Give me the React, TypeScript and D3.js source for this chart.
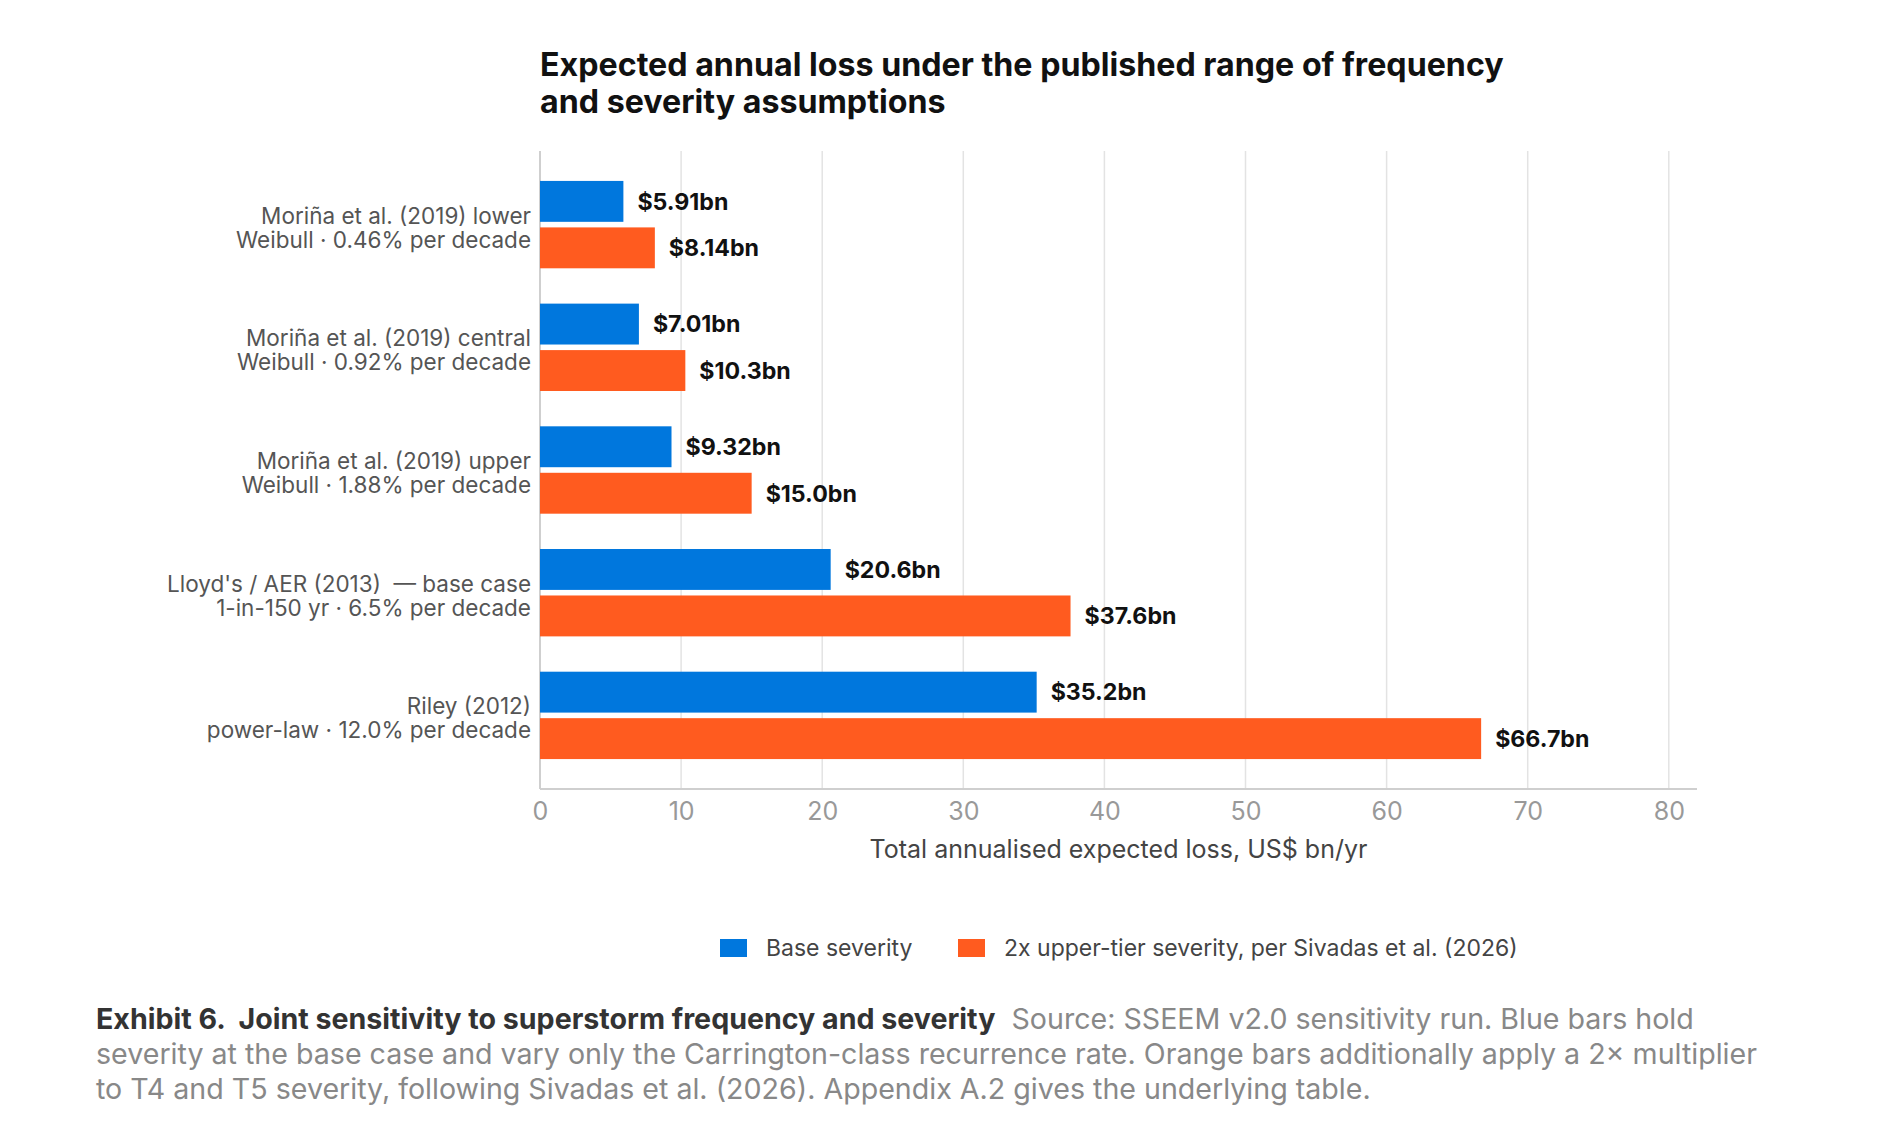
import { useEffect, useRef } from 'react'
import * as d3 from 'd3'

const categories = [
  ['Moriña et al. (2019) lower', 'Weibull · 0.46% per decade'],
  ['Moriña et al. (2019) central', 'Weibull · 0.92% per decade'],
  ['Moriña et al. (2019) upper', 'Weibull · 1.88% per decade'],
  ["Lloyd's / AER (2013)  — base case", '1-in-150 yr · 6.5% per decade'],
  ['Riley (2012)', 'power-law · 12.0% per decade'],
]
const baseSeverity = [5.91, 7.01, 9.32, 20.6, 35.2]
const upperSeverity = [8.14, 10.3, 15.0, 37.6, 66.7]
const baseLabels = ['$5.91bn', '$7.01bn', '$9.32bn', '$20.6bn', '$35.2bn']
const upperLabels = ['$8.14bn', '$10.3bn', '$15.0bn', '$37.6bn', '$66.7bn']
const xTicks = [0, 10, 20, 30, 40, 50, 60, 70, 80]
const seriesNames = ['Base severity', '2x upper-tier severity, per Sivadas et al. (2026)']

const W = 1880
const H = 1130
const BLUE = '#0077dd'
const ORANGE = '#ff5b1f'
const FONT = 'Inter, "Noto Sans", sans-serif'

export default function App() {
  const svgRef = useRef<SVGSVGElement>(null)

  useEffect(() => {
    document.body.style.margin = '0'
    if (!svgRef.current) return
    const svg = d3.select(svgRef.current)
    svg.selectAll('*').remove()

    const left = 540
    const top = 151
    const bottom = 789
    const axisEnd = 1697

    const x = d3.scaleLinear().domain([0, 80]).range([left, left + 8 * 141.1])
    const y = d3.scaleBand<number>().domain(d3.range(categories.length)).range([top, bottom]).paddingInner(0).paddingOuter(0.1)
    const sub = d3.scaleBand<number>().domain([0, 1]).range([0, y.bandwidth()]).paddingInner(0.12).paddingOuter(0.38)

    svg.append('rect').attr('width', W).attr('height', H).attr('fill', '#fff')

    // title
    const title = svg.append('text').attr('font-family', FONT).attr('font-weight', 700).attr('font-size', 32.2).attr('fill', '#111')
    title.append('tspan').attr('x', left).attr('y', 76).text('Expected annual loss under the published range of frequency')
    title.append('tspan').attr('x', left).attr('y', 113).text('and severity assumptions')

    // grid
    svg.append('g').selectAll('line').data(xTicks.slice(1)).join('line')
      .attr('x1', d => x(d)).attr('x2', d => x(d)).attr('y1', top).attr('y2', bottom)
      .attr('stroke', '#e3e3e3').attr('stroke-width', 1.5)

    // axes lines
    svg.append('line').attr('x1', left).attr('x2', left).attr('y1', top).attr('y2', bottom).attr('stroke', '#cfcfcf').attr('stroke-width', 2)
    svg.append('line').attr('x1', left).attr('x2', axisEnd).attr('y1', bottom).attr('y2', bottom).attr('stroke', '#cfcfcf').attr('stroke-width', 2)

    // tick labels
    svg.append('g').attr('transform', `translate(0,${bottom})`)
      .call(d3.axisBottom(x).tickValues(xTicks).tickSize(0).tickPadding(13))
      .call(ax => ax.select('.domain').remove())
      .selectAll('text').attr('font-family', FONT).attr('font-size', 25).attr('fill', '#999')

    svg.append('text').attr('x', (left + axisEnd) / 2).attr('y', 858).attr('text-anchor', 'middle')
      .attr('font-family', FONT).attr('font-size', 25).attr('fill', '#444')
      .text('Total annualised expected loss, US$ bn/yr')

    // bars
    const series = [
      { vals: baseSeverity, labels: baseLabels, color: BLUE, k: 0 },
      { vals: upperSeverity, labels: upperLabels, color: ORANGE, k: 1 },
    ]
    series.forEach(s => {
      const g = svg.append('g')
      g.selectAll('rect').data(s.vals).join('rect')
        .attr('x', left).attr('y', (_, i) => (y(i) ?? 0) + (sub(s.k) ?? 0))
        .attr('width', d => x(d) - left).attr('height', sub.bandwidth()).attr('fill', s.color)
      g.selectAll('text').data(s.vals).join('text')
        .attr('x', d => x(d) + 14).attr('y', (_, i) => (y(i) ?? 0) + (sub(s.k) ?? 0) + sub.bandwidth() / 2)
        .attr('dy', '0.36em').attr('font-family', FONT).attr('font-weight', 700).attr('font-size', 23.2).attr('fill', '#111')
        .text((_, i) => s.labels[i])
    })

    // category labels
    const cat = svg.append('g')
    categories.forEach((lines, i) => {
      const cy = (y(i) ?? 0) + y.bandwidth() / 2
      const t = cat.append('text').attr('text-anchor', 'end').attr('font-family', FONT).attr('font-size', 22.5).attr('fill', '#555')
        .attr('xml:space', 'preserve').style('white-space', 'pre')
      t.append('tspan').attr('x', 531).attr('y', cy - 1).style('white-space', 'pre').text(lines[0])
      t.append('tspan').attr('x', 531).attr('y', cy + 23).style('white-space', 'pre').text(lines[1])
    })

    // legend
    const legend = svg.append('g').attr('font-family', FONT).attr('font-size', 23).attr('fill', '#444')
    const lx = [720, 958]
    seriesNames.forEach((name, i) => {
      legend.append('rect').attr('x', lx[i]).attr('y', 939).attr('width', 27).attr('height', 18).attr('fill', i === 0 ? BLUE : ORANGE)
      legend.append('text').attr('x', lx[i] + 46).attr('y', 956).text(name)
    })

    // caption
    const cap = svg.append('text').attr('font-family', FONT).attr('font-size', 28.6).attr('fill', '#888').style('white-space', 'pre')
    const l1 = cap.append('tspan').attr('x', 96).attr('y', 1029)
    l1.append('tspan').attr('font-weight', 700).attr('fill', '#333').text('Exhibit 6.  Joint sensitivity to superstorm frequency and severity')
    l1.append('tspan').text('  Source: SSEEM v2.0 sensitivity run. Blue bars hold')
    cap.append('tspan').attr('x', 96).attr('y', 1064).text('severity at the base case and vary only the Carrington-class recurrence rate. Orange bars additionally apply a 2× multiplier')
    cap.append('tspan').attr('x', 96).attr('y', 1099).text('to T4 and T5 severity, following Sivadas et al. (2026). Appendix A.2 gives the underlying table.')
  }, [])

  return <svg ref={svgRef} width={W} height={H} style={{ display: 'block' }} />
}
